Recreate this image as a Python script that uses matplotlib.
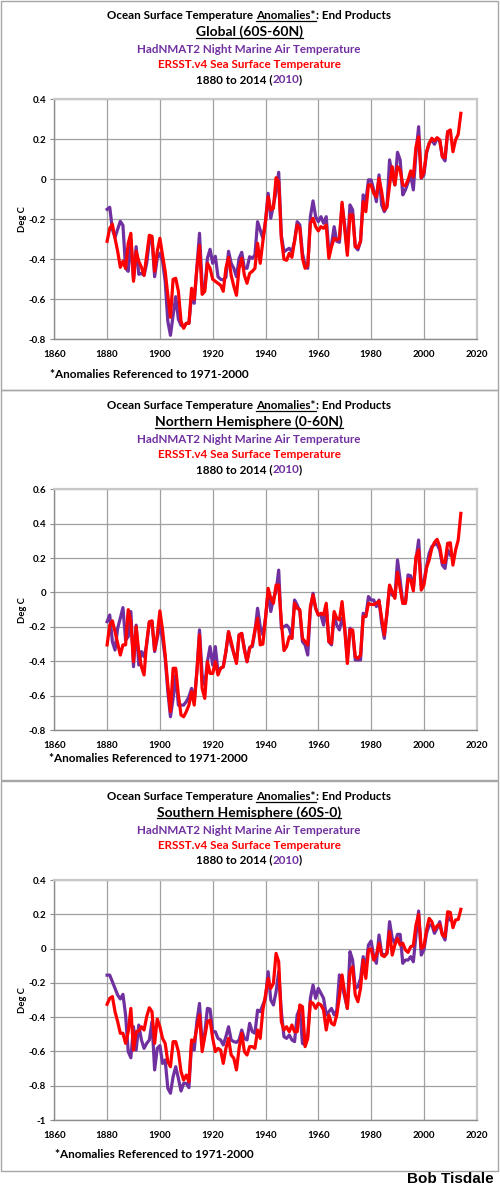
import matplotlib
matplotlib.use("Agg")
import matplotlib.pyplot as plt
from matplotlib.lines import Line2D
from matplotlib.patches import Rectangle
import numpy as np

plt.rcParams['font.family'] = ['Lato', 'DejaVu Sans']
plt.rcParams['font.weight'] = 'bold'

years_sst = list(range(1880, 2015))
years_mat = list(range(1880, 2011))

# ---------------- Global (60S-60N) ----------------
glob_sst = [-0.31, -0.245, -0.225, -0.295, -0.36, -0.44, -0.41, -0.445, -0.32, -0.27,
            -0.51, -0.36, -0.41, -0.44, -0.48, -0.38, -0.28, -0.285, -0.46, -0.36,
            -0.295, -0.38, -0.46, -0.58, -0.69, -0.50, -0.495, -0.56, -0.71, -0.745,
            -0.72, -0.72, -0.545, -0.60, -0.445, -0.33, -0.575, -0.56, -0.42, -0.445,
            -0.50, -0.51, -0.52, -0.53, -0.56, -0.445, -0.39, -0.48, -0.535, -0.58,
            -0.445, -0.395, -0.48, -0.52, -0.47, -0.46, -0.445, -0.32, -0.42, -0.31,
            -0.21, -0.087, -0.153, -0.145, 0.008, -0.012, -0.295, -0.40, -0.405, -0.37,
            -0.39, -0.31, -0.228, -0.245, -0.395, -0.445, -0.43, -0.22, -0.195, -0.237,
            -0.258, -0.237, -0.245, -0.228, -0.395, -0.337, -0.295, -0.303, -0.295, -0.115,
            -0.245, -0.38, -0.178, -0.178, -0.337, -0.342, -0.31, -0.112, -0.162, -0.028,
            -0.028, -0.07, -0.087, 0.005, -0.062, -0.153, -0.137, -0.028, 0.063, -0.028,
            0.063, 0.047, -0.028, -0.032, -0.003, 0.042, 0.013, 0.163, 0.213, 0.008,
            0.035, 0.138, 0.18, 0.205, 0.192, 0.208, 0.197, 0.113, 0.108, 0.238,
            0.247, 0.138, 0.197, 0.225, 0.33]
glob_mat = [-0.15, -0.14, -0.25, -0.29, -0.25, -0.21, -0.23, -0.445, -0.46, -0.30,
            -0.50, -0.337, -0.475, -0.47, -0.48, -0.42, -0.31, -0.295, -0.487, -0.395,
            -0.37, -0.41, -0.51, -0.71, -0.78, -0.68, -0.587, -0.70, -0.73, -0.737,
            -0.72, -0.72, -0.58, -0.62, -0.445, -0.27, -0.53, -0.545, -0.395, -0.35,
            -0.42, -0.385, -0.487, -0.50, -0.503, -0.49, -0.36, -0.42, -0.445, -0.487,
            -0.395, -0.365, -0.445, -0.445, -0.387, -0.395, -0.378, -0.212, -0.253, -0.295,
            -0.21, -0.07, -0.195, -0.128, -0.062, 0.035, -0.28, -0.362, -0.353, -0.345,
            -0.362, -0.31, -0.212, -0.228, -0.37, -0.43, -0.445, -0.187, -0.108, -0.187,
            -0.212, -0.187, -0.22, -0.187, -0.362, -0.328, -0.237, -0.31, -0.315, -0.128,
            -0.228, -0.362, -0.128, -0.153, -0.337, -0.353, -0.31, -0.078, -0.112, -0.003,
            -0.003, -0.053, -0.112, 0.022, -0.128, -0.162, -0.137, 0.097, 0.022, -0.028,
            0.135, 0.097, -0.078, -0.053, -0.015, 0.022, -0.053, 0.13, 0.263, 0.005,
            0.022, 0.13, 0.18, 0.197, 0.175, 0.205, 0.192, 0.113, 0.092, 0.238,
            0.238]

# ---------------- Northern Hemisphere (0-60N) ----------------
nh_sst = [-0.305, -0.19, -0.165, -0.228, -0.296, -0.364, -0.305, -0.305, -0.10, -0.17,
          -0.403, -0.199, -0.344, -0.432, -0.48, -0.286, -0.17, -0.165, -0.335, -0.247,
          -0.107, -0.218, -0.364, -0.538, -0.693, -0.441, -0.441, -0.596, -0.713, -0.723,
          -0.693, -0.655, -0.577, -0.655, -0.461, -0.247, -0.558, -0.616, -0.403, -0.471,
          -0.471, -0.403, -0.48, -0.441, -0.432, -0.344, -0.228, -0.286, -0.354, -0.413,
          -0.247, -0.238, -0.335, -0.403, -0.325, -0.305, -0.218, -0.15, -0.305, -0.30,
          -0.15, 0.024, -0.034, -0.063, 0.043, 0.043, -0.17, -0.338, -0.315, -0.257,
          -0.267, -0.063, -0.092, -0.10, -0.267, -0.286, -0.305, -0.082, -0.015, -0.092,
          -0.131, -0.121, -0.131, -0.063, -0.286, -0.296, -0.111, -0.15, -0.16, -0.053,
          -0.208, -0.413, -0.218, -0.218, -0.374, -0.383, -0.364, -0.14, -0.14, -0.063,
          -0.07, -0.07, -0.063, -0.05, -0.15, -0.247, -0.121, 0.043, 0.005, -0.034,
          0.117, 0.024, -0.063, -0.063, 0.078, 0.072, 0.009, 0.208, 0.247, 0.014,
          0.043, 0.144, 0.189, 0.257, 0.291, 0.309, 0.266, 0.175, 0.175, 0.286,
          0.289, 0.159, 0.247, 0.305, 0.46]
nh_mat = [-0.17, -0.131, -0.286, -0.335, -0.208, -0.15, -0.088, -0.277, -0.257, -0.111,
          -0.432, -0.19, -0.422, -0.344, -0.374, -0.305, -0.174, -0.17, -0.344, -0.267,
          -0.19, -0.267, -0.383, -0.577, -0.723, -0.616, -0.48, -0.655, -0.655, -0.655,
          -0.635, -0.606, -0.558, -0.635, -0.461, -0.218, -0.48, -0.538, -0.403, -0.315,
          -0.422, -0.315, -0.461, -0.441, -0.432, -0.344, -0.228, -0.305, -0.354, -0.403,
          -0.247, -0.238, -0.325, -0.403, -0.319, -0.315, -0.228, -0.092, -0.199, -0.247,
          -0.15, 0.005, -0.111, -0.034, 0.005, 0.13, -0.208, -0.199, -0.19, -0.208,
          -0.267, -0.044, -0.073, -0.111, -0.286, -0.305, -0.364, -0.10, -0.005, -0.092,
          -0.131, -0.131, -0.19, -0.073, -0.286, -0.305, -0.131, -0.19, -0.218, -0.15,
          -0.208, -0.383, -0.208, -0.228, -0.393, -0.393, -0.393, -0.121, -0.14, -0.024,
          -0.044, -0.044, -0.082, -0.044, -0.18, -0.267, -0.121, 0.034, -0.015, -0.024,
          0.189, 0.072, -0.063, -0.063, 0.102, 0.097, 0.024, 0.189, 0.305, 0.043,
          0.063, 0.15, 0.228, 0.266, 0.28, 0.28, 0.247, 0.159, 0.14, 0.247,
          0.218]

# ---------------- Southern Hemisphere (60S-0) ----------------
sh_sst = [-0.325, -0.29, -0.28, -0.368, -0.426, -0.494, -0.494, -0.553, -0.485, -0.349,
          -0.592, -0.485, -0.481, -0.456, -0.475, -0.397, -0.345, -0.368, -0.553, -0.411,
          -0.456, -0.524, -0.553, -0.66, -0.689, -0.543, -0.543, -0.601, -0.718, -0.767,
          -0.738, -0.777, -0.533, -0.543, -0.461, -0.387, -0.601, -0.514, -0.426, -0.417,
          -0.524, -0.601, -0.582, -0.592, -0.67, -0.582, -0.524, -0.621, -0.64, -0.708,
          -0.582, -0.494, -0.601, -0.621, -0.572, -0.572, -0.582, -0.475, -0.524, -0.359,
          -0.271, -0.174, -0.232, -0.203, -0.028, -0.077, -0.426, -0.475, -0.456, -0.485,
          -0.446, -0.485, -0.485, -0.329, -0.339, -0.572, -0.524, -0.31, -0.32, -0.349,
          -0.32, -0.329, -0.359, -0.475, -0.387, -0.436, -0.446, -0.387, -0.28, -0.154,
          -0.261, -0.349, -0.135, -0.106, -0.271, -0.31, -0.232, -0.067, -0.174, -0.008,
          -0.002, -0.067, -0.038, 0.031, -0.038, -0.047, -0.028, 0.099, -0.038, 0.021,
          0.06, 0.021, 0.031, -0.008, -0.022, 0.011, 0.017, 0.137, 0.20, 0.001,
          0.011, 0.108, 0.176, 0.157, 0.108, 0.133, 0.141, 0.079, 0.069, 0.215,
          0.211, 0.122, 0.167, 0.17, 0.229]
sh_mat = [-0.155, -0.155, -0.193, -0.232, -0.271, -0.294, -0.267, -0.387, -0.601, -0.637,
          -0.456, -0.592, -0.446, -0.533, -0.582, -0.553, -0.533, -0.426, -0.708, -0.582,
          -0.566, -0.67, -0.65, -0.815, -0.844, -0.747, -0.689, -0.757, -0.831, -0.786,
          -0.786, -0.811, -0.553, -0.592, -0.426, -0.32, -0.553, -0.494, -0.349, -0.353,
          -0.485, -0.485, -0.524, -0.533, -0.562, -0.514, -0.456, -0.533, -0.543, -0.547,
          -0.533, -0.475, -0.524, -0.533, -0.436, -0.485, -0.494, -0.359, -0.368, -0.329,
          -0.29, -0.135, -0.30, -0.329, -0.252, -0.135, -0.368, -0.514, -0.524, -0.504,
          -0.533, -0.543, -0.387, -0.349, -0.553, -0.562, -0.504, -0.29, -0.213, -0.29,
          -0.232, -0.261, -0.29, -0.387, -0.368, -0.349, -0.387, -0.359, -0.154, -0.213,
          -0.28, -0.349, -0.018, -0.067, -0.232, -0.223, -0.174, -0.047, -0.115, 0.021,
          0.044, -0.047, -0.086, 0.079, -0.028, -0.038, -0.028, 0.157, 0.06, 0.031,
          0.083, 0.083, -0.086, -0.067, -0.067, -0.047, -0.077, 0.079, 0.219, -0.038,
          -0.008, 0.089, 0.137, 0.137, 0.089, 0.118, 0.157, 0.083, 0.05, 0.186,
          0.167]

region_titles = ["Global (60S-60N)", "Northern Hemisphere (0-60N)", "Southern Hemisphere (60S-0)"]
y_ranges = [(-0.8, 0.4), (-0.8, 0.6), (-1.0, 0.4)]
x_ticks = [1860, 1880, 1900, 1920, 1940, 1960, 1980, 2000, 2020]
footnote = "*Anomalies Referenced to 1971-2000"

PURPLE = "#7030A0"
RED = "#FF0000"
W, H = 500, 1188
fig = plt.figure(figsize=(W / 100, H / 100), dpi=100)
fig.patch.set_facecolor("white")

def fx(px):
    return px / W

def fy(py):
    return 1 - py / H

renderer = fig.canvas.get_renderer()

def seg_line(y_base_px, segments, size, cx=249):
    texts = []
    widths = []
    for s, col, ul in segments:
        t = fig.text(0, fy(y_base_px), s, color=col, fontsize=size, fontweight='bold',
                     ha='left', va='baseline')
        bb = t.get_window_extent(renderer)
        texts.append(t)
        widths.append(bb.width)
    total = sum(widths)
    x = cx - total / 2
    for t, w, (s, col, ul) in zip(texts, widths, segments):
        t.set_x(fx(x))
        if ul:
            fig.add_artist(Line2D([fx(x), fx(x + w)], [fy(y_base_px + 1.8)] * 2,
                                  color=col, lw=0.9))
        x += w

panels = [
    (glob_sst, glob_mat, 0.0),
    (nh_sst, nh_mat, 390.0),
    (sh_sst, sh_mat, 780.5),
]
foot_y = [374, 759, 1154]
foot_x = [50, 49, 55]

for i, (sst, mat, off) in enumerate(panels):
    # panel frame
    top = 0.5 if i == 0 else off
    bot = [390, 780, 1171][i]
    fig.add_artist(Rectangle((fx(1), fy(bot)), fx(497), (bot - top) / H, fill=False,
                             edgecolor="#a6a6a6", lw=1.0))
    # titles
    seg_line(off + 19.3, [("Ocean Surface Temperature ", "black", False),
                          ("Anomalies*", "black", True),
                          (": End Products", "black", False)], 8.4)
    seg_line(off + 36.0, [(region_titles[i], "black", True)], 10.0)
    seg_line(off + 53.2, [("HadNMAT2 Night Marine Air Temperature", PURPLE, False)], 8.4)
    seg_line(off + 68.3, [("ERSST.v4 Sea Surface Temperature", RED, False)], 8.4)
    seg_line(off + 83.0, [("1880 to 2014 (", "black", False), ("2010", PURPLE, False),
                          (")", "black", False)], 8.4)

    ax_top = [99.3, 489.3, 880.0][i]
    ax_bot = [339.3, 730.0, 1120.0][i]
    ax = fig.add_axes([fx(54.3), fy(ax_bot), fx(422.4), (ax_bot - ax_top) / H])
    ax.plot(years_mat, mat, color=PURPLE, lw=2.3, solid_joinstyle='round', zorder=3)
    ax.plot(years_sst, sst, color=RED, lw=2.3, solid_joinstyle='round', zorder=4)
    lo, hi = y_ranges[i]
    ax.set_ylim(lo, hi)
    ax.set_xlim(1860, 2020)
    ax.set_xticks(x_ticks)
    ax.set_yticks(np.round(np.arange(lo, hi + 0.001, 0.2), 1))
    ax.yaxis.set_major_formatter(matplotlib.ticker.FuncFormatter(
        lambda v, p: "0" if abs(v) < 1e-9 else ("%g" % round(v, 1))))
    ax.grid(True, color="#a0a0a0", lw=0.9)
    ax.set_axisbelow(True)
    for side in ["top", "right"]:
        ax.spines[side].set_color("#c8c8c8")
        ax.spines[side].set_linewidth(1.6)
    for side in ["left", "bottom"]:
        ax.spines[side].set_color("#8c8c8c")
        ax.spines[side].set_linewidth(1.0)
    ax.tick_params(axis='y', length=3, width=0.8, color="#8c8c8c", pad=3, labelsize=7)
    ax.tick_params(axis='x', length=0, pad=8, labelsize=7)
    for lab in ax.get_xticklabels() + ax.get_yticklabels():
        lab.set_fontweight('bold')
    ax.set_ylabel("Deg C", fontsize=6.8, fontweight='bold', labelpad=1)
    fig.text(fx(foot_x[i]), fy(foot_y[i]), footnote, fontsize=8.5, fontweight='bold',
             ha='left', va='center')

fig.text(fx(494), fy(1179), "Bob Tisdale", fontsize=11, fontweight='heavy',
         family=['Liberation Sans', 'DejaVu Sans'], ha='right', va='center')

fig.savefig("out.png", dpi=100, facecolor="white")
